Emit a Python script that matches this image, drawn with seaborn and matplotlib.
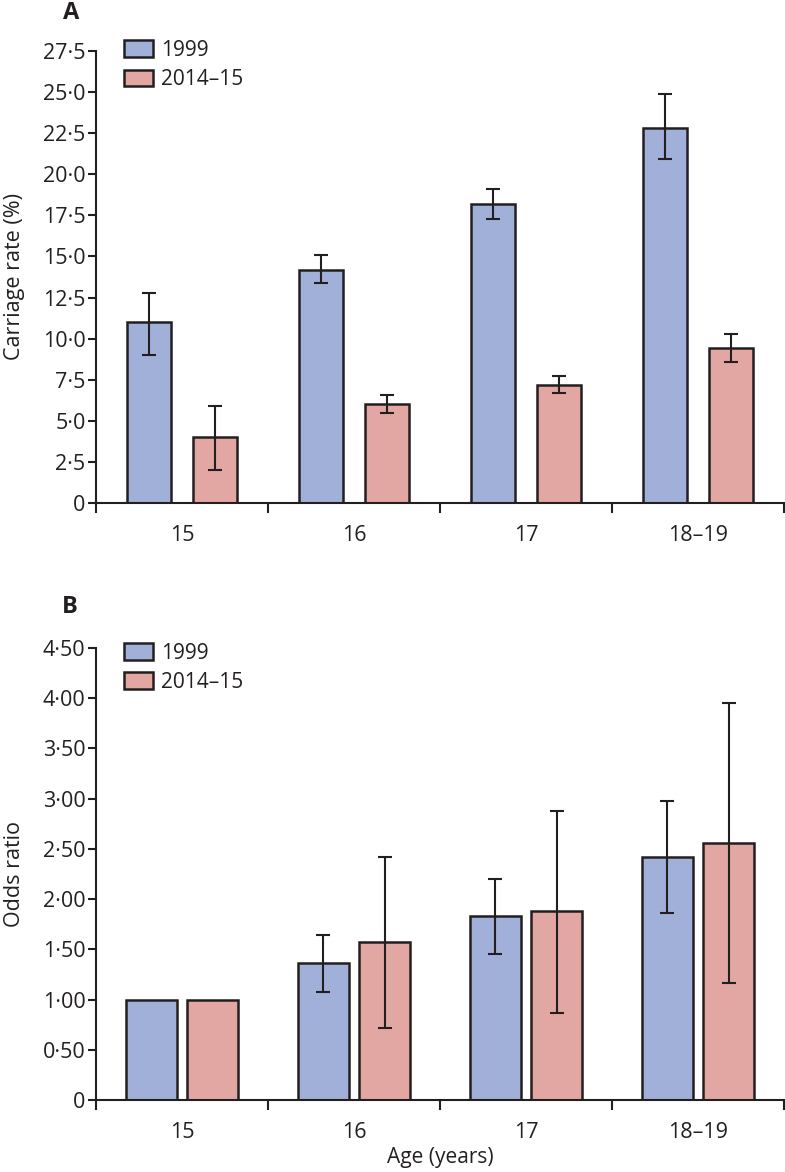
import numpy as np
import pandas as pd
import matplotlib.pyplot as plt
import seaborn as sns
from matplotlib.ticker import FuncFormatter

ages = ['15', '16', '17', '18–19']
years = ['1999', '2014–15']

# Panel A: carriage rate (%) with 95% CI
carriage_1999 = [11.0, 14.2, 18.2, 22.8]
carriage_1999_lo = [9.0, 13.4, 17.3, 20.9]
carriage_1999_hi = [12.8, 15.1, 19.1, 24.9]
carriage_2014 = [4.0, 6.0, 7.2, 9.4]
carriage_2014_lo = [2.0, 5.5, 6.7, 8.6]
carriage_2014_hi = [5.9, 6.6, 7.7, 10.3]

# Panel B: odds ratio (15 years = reference)
or_1999 = [1.00, 1.36, 1.83, 2.42]
or_1999_lo = [np.nan, 1.08, 1.45, 1.86]
or_1999_hi = [np.nan, 1.64, 2.20, 2.98]
or_2014 = [1.00, 1.57, 1.88, 2.56]
or_2014_lo = [np.nan, 0.72, 0.87, 1.16]
or_2014_hi = [np.nan, 2.42, 2.88, 3.95]

blue = '#a1b0d8'
pink = '#e2a7a2'
ink = '#231f20'

sns.set_style('ticks')
plt.rcParams['font.family'] = ['Open Sans', 'DejaVu Sans']

fig = plt.figure(figsize=(7.85, 11.72), dpi=100)
W, H = 785, 1172
axA = fig.add_axes([96 / W, 1 - 503 / H, 688 / W, 452 / H])
axB = fig.add_axes([96 / W, 1 - 1100 / H, 688 / W, 452 / H])


def panel(ax, v1, lo1, hi1, v2, lo2, hi2, width, gap, ymax, step, fmt, ylabel, leg_y):
    df = pd.DataFrame({
        'age': ages * 2,
        'year': [years[0]] * 4 + [years[1]] * 4,
        'value': v1 + v2,
    })
    sns.barplot(data=df, x='age', y='value', hue='year', order=ages, hue_order=years,
                palette=[blue, pink], saturation=1, gap=gap, width=width, errorbar=None,
                edgecolor=ink, linewidth=1.8, legend=False, ax=ax)
    for cont, v, lo, hi in zip(ax.containers, [v1, v2], [lo1, lo2], [hi1, hi2]):
        xs = [b.get_x() + b.get_width() / 2 for b in cont.patches]
        v = np.array(v)
        yerr = [v - np.array(lo), np.array(hi) - v]
        ax.errorbar(xs, v, yerr=yerr, fmt='none', ecolor=ink, elinewidth=1.5,
                    capsize=4.8, capthick=1.5, zorder=5)

    ax.set_xlim(-0.5, 3.5)
    ax.set_ylim(0, ymax)
    ax.set_yticks(np.arange(0, ymax + step / 2, step))
    ax.yaxis.set_major_formatter(FuncFormatter(
        lambda y, p: '0' if abs(y) < 1e-9 else (fmt % y).replace('.', '·')))
    ax.set_xticks(range(4), ages)
    ax.set_xticks([-0.5, 0.5, 1.5, 2.5, 3.5], minor=True)
    ax.tick_params(axis='x', which='major', length=0, pad=16, labelsize=15.5, colors=ink)
    ax.tick_params(axis='x', which='minor', length=7.5, width=1.5, direction='out', color=ink)
    ax.tick_params(axis='y', length=5.5, width=1.5, direction='out', pad=2,
                   labelsize=15.5, colors=ink)
    for s in ['top', 'right']:
        ax.spines[s].set_visible(False)
    for s in ['left', 'bottom']:
        ax.spines[s].set_linewidth(1.5)
        ax.spines[s].set_color(ink)
        ax.spines[s].set_clip_on(False)
    ax.set_ylabel(ylabel, fontsize=15.5, color=ink)
    ax.yaxis.set_label_coords(-0.103, 0.5)
    ax.set_xlabel('')
    ax.legend(ax.containers, years, loc='upper left', bbox_to_anchor=(0.041, leg_y),
              frameon=False, fontsize=15, borderpad=0, borderaxespad=0,
              handlelength=1.4, handleheight=0.85, handletextpad=0.35,
              labelspacing=0.4, labelcolor=ink)


panel(axA, carriage_1999, carriage_1999_lo, carriage_1999_hi,
      carriage_2014, carriage_2014_lo, carriage_2014_hi,
      width=0.76, gap=0.33, ymax=27.5, step=2.5, fmt='%.1f',
      ylabel='Carriage rate (%)', leg_y=1.025)
panel(axB, or_1999, or_1999_lo, or_1999_hi,
      or_2014, or_2014_lo, or_2014_hi,
      width=0.71, gap=0.18, ymax=4.5, step=0.5, fmt='%.2f',
      ylabel='Odds ratio', leg_y=1.012)

axB.set_xlabel('Age (years)', fontsize=15, color=ink, labelpad=3)

fig.text(71 / W, 1 - 13 / H, 'A', fontsize=17, fontweight='bold', ha='center', va='center', color=ink)
fig.text(70 / W, 1 - 607 / H, 'B', fontsize=17, fontweight='bold', ha='center', va='center', color=ink)

fig.savefig('out.png', dpi=100)
